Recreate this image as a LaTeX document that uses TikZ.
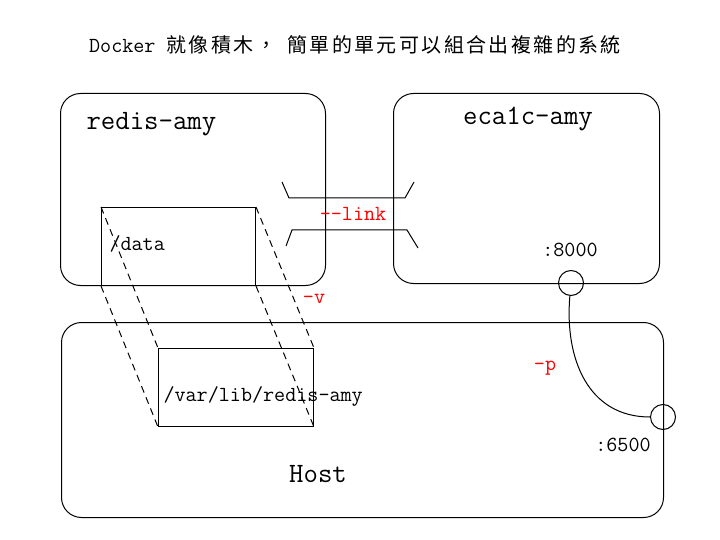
\documentclass[tikz,border=0pt]{standalone}
\usepackage{fontspec}
\newfontfamily\cjkfont[LetterSpace=12]{Noto Sans CJK TC}
\usetikzlibrary{positioning}
\colorlet{optred}{red}

\begin{document}
\begin{tikzpicture}[
  x=1pt,y=-1pt,line width=1pt,
  box/.style = {draw,rounded corners=20pt,anchor=north west,inner sep=0pt},
  vol/.style = {draw,anchor=north west,inner sep=0pt},
  port/.style = {draw,circle,minimum size=25pt,inner sep=0pt},
  big/.style = {inner sep=0pt,font=\ttfamily\fontsize{28}{30}\selectfont},
  small/.style = {inner sep=0pt,font=\ttfamily\fontsize{21.5}{23}\selectfont},
  opt/.style = {small,text=optred},
  mapping/.style = {dash pattern=on 7pt off 5pt}
  ]
  \useasboundingbox (0,0) rectangle (720,540);
  % Title
  \node[small] (title) at (355,45)
    {Docker {\cjkfont\fontsize{20}{22}\selectfont 就像積木，}\ {\cjkfont\fontsize{20}{22}\selectfont 簡單的單元可以組合出複雜的系統}};
  % Containers and host
  \node[box,minimum width=265pt,minimum height=192pt] (redis) at (60,93) {};
  \node[box,minimum width=266pt,minimum height=190pt] (eca1c) at (393,93) {};
  \node[box,minimum width=602pt,minimum height=195pt] (host) at (61,322) {};
  \node[big,anchor=west] (redisname) at (86,124) {redis-amy};
  \node[big] (eca1cname) at (528,119) {eca1c-amy};
  \node[big] (hostname) at (318,474) {Host};
  % Volumes
  \node[vol,minimum width=154pt,minimum height=78pt] (data) at (101,207) {};
  \node[vol,minimum width=155pt,minimum height=78pt] (var) at (158,348) {};
  \node[small,anchor=west] (dataname) at (109,244) {/data};
  \node[small,anchor=west] (varname) at (163,396) {/var/lib/redis-amy};
  \draw[mapping] (data.north west) -- (var.north west);
  \draw[mapping] (data.north east) -- (var.north east);
  \draw[mapping] (data.south west) -- (var.south west);
  \draw[mapping] (data.south east) -- (var.south east);
  \node[opt] (vopt) at (314,299) {-v};
  % Link
  \node[opt] (link) at (353,214) {--link};
  \draw (282,182) -- (289,198) -- (405,198) -- (414,182);
  \draw (286,246) -- (292,230) -- (407,230) -- (418,248);
  % Ports
  \node[port] (p8000) at (571,283) {};
  \node[port] (p6500) at (663,417) {};
  \node[small] (l8000) at (570,250) {:8000};
  \node[small] (l6500) at (623,445) {:6500};
  \draw (p8000) to[out=-95,in=180,looseness=1.1] (p6500);
  \node[opt] (popt) at (545,368) {-p};
\end{tikzpicture}
\end{document}
